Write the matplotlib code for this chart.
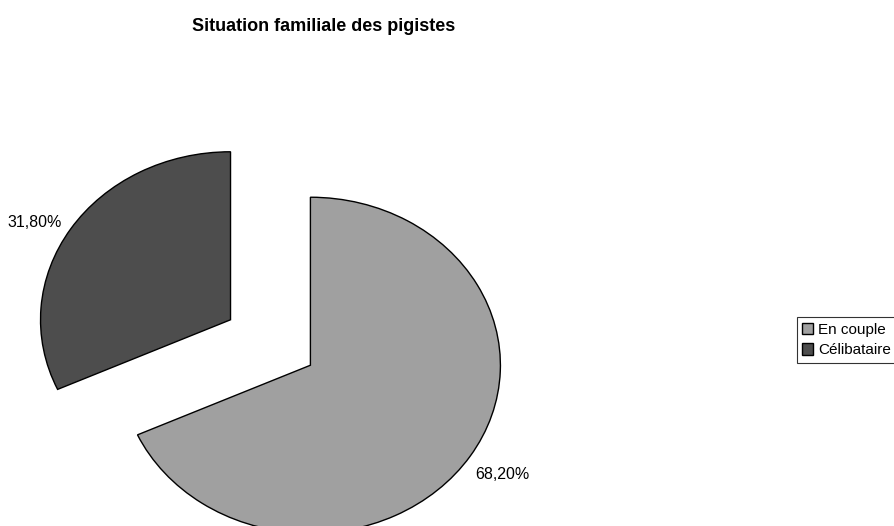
import matplotlib.pyplot as plt

categories = ["En couple", "Célibataire"]
shares = [68.2, 31.8]
colors = ["#a0a0a0", "#4d4d4d"]

plt.rcParams['font.family'] = ['Liberation Sans', 'DejaVu Sans']

fig = plt.figure(figsize=(8.95, 5.26), dpi=100)
ax = fig.add_axes([0.005, -0.0983, 0.5944, 0.8943])

labels = [f"{v:.2f}%".replace(".", ",") for v in shares]
wedges, texts = ax.pie(shares, colors=colors, labels=labels, startangle=90,
                       counterclock=False, explode=[0.25, 0.25], labeldistance=1.2,
                       wedgeprops=dict(edgecolor="black", linewidth=1),
                       textprops=dict(fontsize=11.5), frame=False)
for t in texts:
    t.set_ha("center")
# small nudge so the left label sits like in the original
x, y = texts[1].get_position()
texts[1].set_position((x - 0.02, y - 0.07))
ax.set_aspect("auto")
ax.set_xlim(-1.4, 1.4)
ax.set_ylim(-1.4, 1.4)

fig.text(0.362, 0.950, "Situation familiale des pigistes", ha="center", va="center",
         fontsize=13, fontweight="bold")

leg = fig.legend(wedges, categories, loc="upper left", bbox_to_anchor=(0.890, 0.397),
                 fontsize=11, frameon=True, fancybox=False, handlelength=0.75,
                 handleheight=0.75, handletextpad=0.3, labelspacing=0.45,
                 borderpad=0.35, borderaxespad=0)
leg.get_frame().set_edgecolor("black")
leg.get_frame().set_linewidth(0.8)

fig.savefig("out.png", dpi=100)
